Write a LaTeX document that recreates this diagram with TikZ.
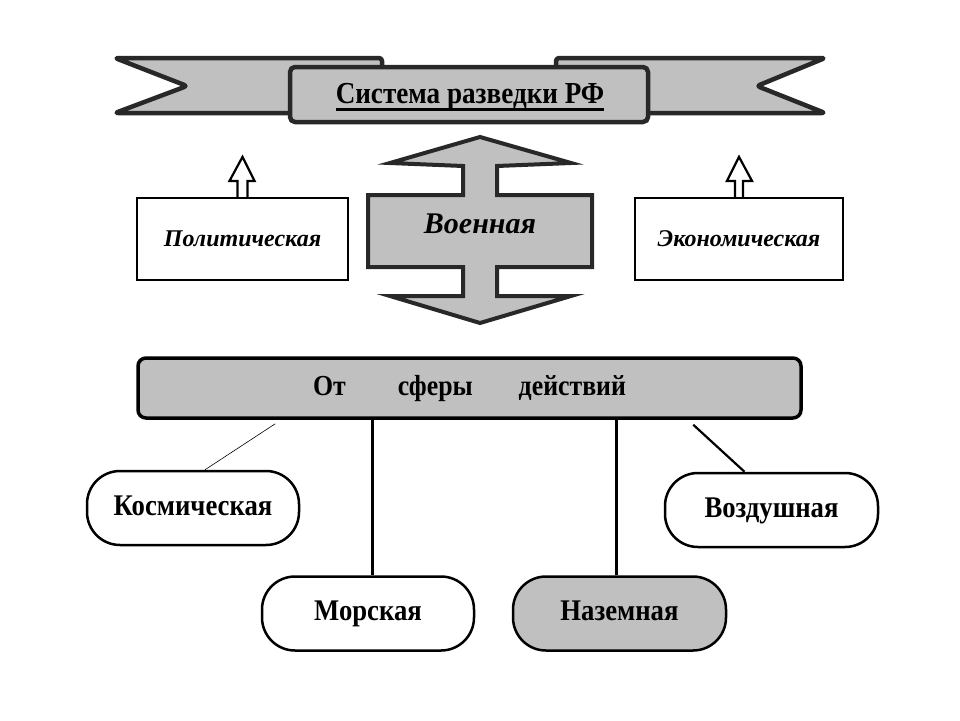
\documentclass[tikz,border=0pt]{standalone}
\usepackage{fontspec}
\setmainfont{Liberation Serif}
\newfontfamily\condserif[FakeStretch=0.89]{Liberation Serif}
\usetikzlibrary{calc}
\definecolor{fillg}{RGB}{192,192,192}
\definecolor{edge}{RGB}{40,40,40}
\begin{document}
\begin{tikzpicture}[x=1pt,y=-1pt,
  ribbon/.style={fill=fillg, draw=edge, line width=4.5pt, line join=round},
  bigarrow/.style={fill=fillg, draw=edge, line width=4pt, line join=miter},
  hollow/.style={fill=white, draw=black, line width=2.2pt, line join=miter},
  plainbox/.style={draw=black, line width=2.2pt, fill=white, minimum width=211pt, minimum height=82pt, inner sep=0pt,
     text height=16pt, text depth=1pt, font=\fontsize{24}{26}\selectfont\bfseries\itshape},
  barbox/.style={draw=black, line width=3.5pt, fill=fillg, rounded corners=8pt, minimum width=663pt, minimum height=60pt, inner sep=0pt,
     text height=19pt, text depth=4pt, font=\fontsize{29}{32}\condserif\bfseries},
  pill/.style={draw=black, line width=2.5pt, fill=white, rounded corners=33pt, minimum width=212pt, minimum height=74pt, inner sep=0pt,
     text height=20pt, text depth=6pt, font=\fontsize{30}{33}\condserif\bfseries},
  link/.style={draw=black, line width=3pt},
  thinlink/.style={draw=black, line width=0.6pt}
]
\useasboundingbox[fill=white] (0,0) rectangle (960,720);

% banner ribbons
\draw[ribbon, rounded corners=3pt] (115,58) -- (382,58) -- (382,113) -- (115,113) -- (187,86) -- cycle;
\draw[ribbon, rounded corners=3pt] (825,58) -- (556,58) -- (556,113) -- (825,113) -- (757,86) -- cycle;
\node[ribbon, rounded corners=5pt, minimum width=358pt, minimum height=55pt, inner sep=0pt] (title) at (469,94.5) {};
\node[inner sep=0pt, anchor=base, font=\fontsize{30.5}{33}\condserif\bfseries] (tt) at (470,103) {Система разведки РФ};
\draw[line width=3pt] ($(tt.base west)+(0,6.5)$) -- ($(tt.base east)+(0,6.5)$);

% military double arrow
\draw[bigarrow] (480,137) -- (571,163) -- (497,166) -- (497,195) -- (592,195) -- (592,267) -- (497,267)
  -- (497,296) -- (571,296) -- (480,323) -- (390,296) -- (463,296) -- (463,267) -- (368,267)
  -- (368,195) -- (463,195) -- (463,166) -- (390,163) -- cycle;
\node[anchor=base, inner sep=0pt, font=\fontsize{30}{33}\selectfont\bfseries\itshape] (mil) at (480,233) {Военная};

% side boxes
\node[plainbox] (pol) at (242.5,239) {Политическая};
\node[plainbox, minimum width=208pt] (eco) at (739,239) {Экономическая};
\draw[hollow] ($(pol.north)+(-5,0)$) -- ++(0,-16) -- ++(-8,0) -- ++(13,-24) -- ++(12,24) -- ++(-7,0) -- ($(pol.north)+(5,0)$);
\draw[hollow] ($(eco.north)+(-4,0)$) -- ++(0,-16) -- ++(-8,0) -- ++(12,-24) -- ++(13,24) -- ++(-9,0) -- ($(eco.north)+(4,0)$);

% bar
\node[barbox] (bar) at (469.5,388) {От\hspace{52pt}сферы\hspace{46pt}действий};

% bottom nodes
\node[pill] (kos) at (193,508) {Космическая};
\node[pill, minimum width=213pt] (voz) at (771.5,510) {Воздушная};
\node[pill] (mor) at (368,613.5) {Морская};
\node[pill, fill=fillg, minimum width=213pt] (naz) at (619.5,613.5) {Наземная};

% connectors
\coordinate (k1) at ($(kos.north)+(12,0)$);
\coordinate (k0) at ($(bar.south west)+(139,4)$);
\draw[thinlink] (k0) -- (k1);
\coordinate (m1) at ($(mor.north)+(4,0)$);
\draw[link] (m1) -- (m1 |- bar.south);
\coordinate (n1) at ($(naz.north)+(-3.5,0)$);
\draw[link] (n1) -- (n1 |- bar.south);
\coordinate (v1) at ($(voz.north)+(-27,0)$);
\coordinate (v0) at ($(bar.south west)+(557,5)$);
\draw[draw=black, line width=2.2pt] (v0) -- (v1);
\end{tikzpicture}
\end{document}
